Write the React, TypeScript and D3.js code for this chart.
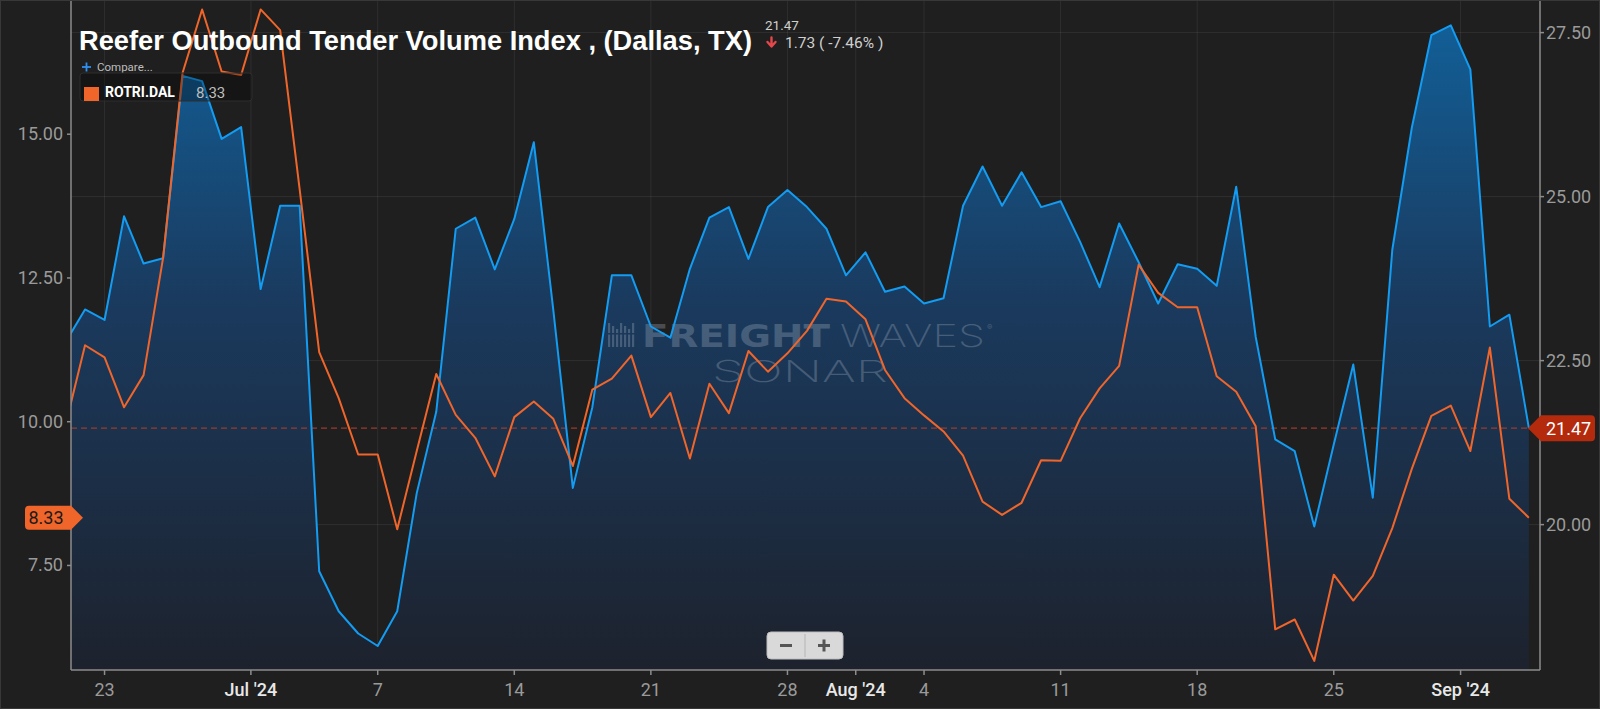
import React from "react";
import * as d3 from "d3";

// ---- data (daily, starting 2024-06-21) ----
const START_DATE = "2024-06-21";

// Reefer Outbound Tender Volume Index, Dallas (right axis, blue area)
const rotviValues = [
    22.78, 23.28, 23.12, 24.70, 23.98, 24.06, 26.84, 26.76, 25.88, 26.06,
    23.59, 24.86, 24.86, 19.29, 18.68, 18.34, 18.15, 18.68, 20.48, 21.72,
    24.51, 24.68, 23.89, 24.66, 25.83, 23.27, 20.56, 21.79, 23.80, 23.80,
    23.02, 22.85, 23.90, 24.68, 24.84, 24.05, 24.84, 25.10, 24.84, 24.51,
    23.80, 24.15, 23.55, 23.63, 23.37, 23.45, 24.86, 25.46, 24.86, 25.37,
    24.84, 24.93, 24.31, 23.62, 24.59, 24.00, 23.37, 23.97, 23.90, 23.64,
    25.15, 22.86, 21.30, 21.12, 19.97, 21.22, 22.44, 20.41, 24.19, 26.05,
    27.46, 27.61, 26.94, 23.02, 23.20, 21.47,
];

// ROTRI.DAL (left axis, orange line)
const rotriValues = [
    9.94, 11.33, 11.12, 10.25, 10.81, 12.85, 16.07, 17.17, 16.09, 16.03,
    17.17, 16.81, 14.04, 11.21, 10.41, 9.43, 9.43, 8.13, 9.49, 10.83,
    10.12, 9.72, 9.05, 10.08, 10.35, 10.05, 9.23, 10.56, 10.75, 11.15,
    10.08, 10.50, 9.36, 10.66, 10.15, 11.23, 10.87, 11.19, 11.58, 12.14,
    12.09, 11.78, 10.90, 10.41, 10.11, 9.83, 9.41, 8.61, 8.38, 8.59,
    9.33, 9.32, 10.06, 10.58, 10.97, 12.73, 12.24, 11.99, 11.99, 10.79,
    10.52, 9.92, 6.39, 6.56, 5.84, 7.34, 6.89, 7.32, 8.15, 9.18,
    10.10, 10.28, 9.49, 11.29, 8.66, 8.33,
];

const leftTicks = [7.5, 10, 12.5, 15];
const rightTicks = [20, 22.5, 25, 27.5];
const dayTicks = [
    {date: "2024-06-23", label: "23"},
    {date: "2024-07-07", label: "7"},
    {date: "2024-07-14", label: "14"},
    {date: "2024-07-21", label: "21"},
    {date: "2024-07-28", label: "28"},
    {date: "2024-08-04", label: "4"},
    {date: "2024-08-11", label: "11"},
    {date: "2024-08-18", label: "18"},
    {date: "2024-08-25", label: "25"},
];
const monthTicks = [
    {date: "2024-07-01", label: "Jul '24"},
    {date: "2024-08-01", label: "Aug '24"},
    {date: "2024-09-01", label: "Sep '24"},
];

const TITLE = "Reefer Outbound Tender Volume Index , (Dallas, TX)";
const SERIES_CODE = "ROTRI.DAL";
const HEADER_LAST = "21.47";
const HEADER_CHANGE = "1.73 ( -7.46% )";

// ---- layout ----
const W = 1600;
const H = 709;
const plot = {left: 71, right: 1540, top: 0, bottom: 670};
const DAY = 86400000;
const MONTH_SHIFT = DAY / 2; // month labels sit half a day early (tz offset)

const BG = "#1f1f1f";
const BLUE = "#139cf2";
const ORANGE = "#f0652a";
const AXIS = "#8d8d8d";
const LABEL = "#9a9a9a";

const start = Date.parse(START_DATE);
const dates = rotviValues.map((_, i) => new Date(start + i * DAY));

const x = d3.scaleUtc()
    .domain([new Date(start + 0.28 * DAY), new Date(start + 75.57 * DAY)])
    .range([plot.left, plot.right]);
const yRight = d3.scaleLinear().domain([17.784, 27.997]).range([plot.bottom, plot.top]);
const yLeft = d3.scaleLinear().domain([5.682, 17.334]).range([plot.bottom, plot.top]);
const fmt = d3.format(".2f");

const area = d3.area<number>()
    .x((_, i) => x(dates[i]))
    .y0(plot.bottom)
    .y1(d => yRight(d));
const blueLine = d3.line<number>()
    .x((_, i) => x(dates[i]))
    .y(d => yRight(d));
const orangeLine = d3.line<number>()
    .x((_, i) => x(dates[i]))
    .y(d => yLeft(d));

const Watermark = () => (
    <g opacity={0.3} fill="#a9b6c4">
        <g>
            {[0, 4, 8, 12, 16, 20, 24].map((dx, i) => (
                <rect key={i} x={608 + dx} y={323 + (i % 3) * 3} width={2.2} height={24 - (i % 3) * 3}/>
            ))}
            <rect x={606} y={333} width={31} height={1.5} fill={"#1d3a5a"}/>
        </g>
        <text x={642} y={347} fontFamily="DejaVu Sans" fontWeight={700} fontSize={32}
              textLength={188} lengthAdjust="spacingAndGlyphs">FREIGHT</text>
        <text x={840} y={347} fontFamily="Inter" fontWeight={200} fontSize={31}
              textLength={145} lengthAdjust="spacingAndGlyphs">WAVES</text>
        <text x={987} y={330} fontFamily="Inter" fontSize={8}>®</text>
        <text x={712} y={382} fontFamily="Inter" fontWeight={200} fontSize={30}
              textLength={176} lengthAdjust="spacingAndGlyphs">SONAR</text>
    </g>
);

const Chart = () => {
    const lastRight = rotviValues[rotviValues.length - 1];
    const lastLeft = rotriValues[rotriValues.length - 1];
    const yLast = yRight(lastRight);
    const yTag = yLeft(lastLeft);
    const lastX = x(dates[dates.length - 1]);

    return (
        <svg width={W} height={H} style={{display: "block"}} fontFamily="Roboto, sans-serif">
            <defs>
                <clipPath id="plotClip">
                    <rect x={plot.left} y={plot.top} width={plot.right - plot.left} height={plot.bottom - plot.top}/>
                </clipPath>
                <linearGradient id="areaGrad" gradientUnits="userSpaceOnUse" x1={0} y1={plot.top} x2={0} y2={plot.bottom}>
                    <stop offset="0%" stopColor="#11629c"/>
                    <stop offset="45%" stopColor="#1a3a5e"/>
                    <stop offset="100%" stopColor="#1d222d"/>
                </linearGradient>
            </defs>

            <rect x={0} y={0} width={W} height={H} fill={BG}/>

            {/* grid */}
            <g stroke="#ffffff" strokeOpacity={0.07} strokeWidth={1}>
                {rightTicks.map(t => (
                    <line key={t} x1={plot.left} x2={plot.right} y1={yRight(t)} y2={yRight(t)}/>
                ))}
                {dayTicks.map(t => (
                    <line key={t.date} x1={x(new Date(t.date))} x2={x(new Date(t.date))} y1={plot.top} y2={plot.bottom}/>
                ))}
                {monthTicks.map(t => {
                    const px = x(new Date(Date.parse(t.date) - MONTH_SHIFT));
                    return <line key={t.date} x1={px} x2={px} y1={plot.top} y2={plot.bottom}/>;
                })}
            </g>

            <g clipPath="url(#plotClip)">
                <path d={area(rotviValues) ?? ""} fill="url(#areaGrad)"/>
                <Watermark/>
                <line x1={plot.left} x2={lastX} y1={yLast} y2={yLast}
                      stroke="#9b3a2e" strokeWidth={1.2} strokeDasharray="6,4"/>
                <path d={blueLine(rotviValues) ?? ""} fill="none" stroke={BLUE} strokeWidth={2}
                      strokeLinejoin="round"/>
                <path d={orangeLine(rotriValues) ?? ""} fill="none" stroke={ORANGE} strokeWidth={2}
                      strokeLinejoin="round"/>
            </g>

            {/* axes */}
            <g stroke={AXIS} strokeWidth={1.5}>
                <line x1={plot.left} x2={plot.left} y1={plot.top} y2={plot.bottom}/>
                <line x1={plot.right} x2={plot.right} y1={plot.top} y2={plot.bottom}/>
                <line x1={plot.left} x2={plot.right} y1={plot.bottom} y2={plot.bottom}/>
                {leftTicks.map(t => (
                    <line key={t} x1={plot.left - 4} x2={plot.left} y1={yLeft(t)} y2={yLeft(t)}/>
                ))}
                {rightTicks.map(t => (
                    <line key={t} x1={plot.right} x2={plot.right + 4} y1={yRight(t)} y2={yRight(t)}/>
                ))}
                {dayTicks.map(t => (
                    <line key={t.date} x1={x(new Date(t.date))} x2={x(new Date(t.date))}
                          y1={plot.bottom} y2={plot.bottom + 5}/>
                ))}
                {monthTicks.map(t => {
                    const px = x(new Date(Date.parse(t.date) - MONTH_SHIFT));
                    return <line key={t.date} x1={px} x2={px} y1={plot.bottom} y2={plot.bottom + 5}/>;
                })}
            </g>

            <g fontSize={18} fill={LABEL}>
                {leftTicks.map(t => (
                    <text key={t} x={plot.left - 8} y={yLeft(t) + 6} textAnchor="end">{fmt(t)}</text>
                ))}
                {rightTicks.map(t => (
                    <text key={t} x={plot.right + 6} y={yRight(t) + 6}>{fmt(t)}</text>
                ))}
                {dayTicks.map(t => (
                    <text key={t.date} x={x(new Date(t.date))} y={696} textAnchor="middle">{t.label}</text>
                ))}
                {monthTicks.map(t => (
                    <text key={t.date} x={x(new Date(Date.parse(t.date) - MONTH_SHIFT))} y={696}
                          textAnchor="middle" fill="#e8e8e8" fontWeight={500}>{t.label}</text>
                ))}
            </g>

            {/* last value tags */}
            <path d={`M${lastX - 1},${yLast} L${plot.right + 1},${yLast - 13} H${W - 9} Q${W - 5},${yLast - 13} ${W - 5},${yLast - 9} V${yLast + 9} Q${W - 5},${yLast + 13} ${W - 9},${yLast + 13} H${plot.right + 1} Z`}
                  fill="#b42a0d"/>
            <text x={plot.right + 6} y={yLast + 7} fontSize={18} fill="#ffffff">{fmt(lastRight)}</text>

            <path d={`M${plot.left + 12},${yTag} L${plot.left},${yTag - 12} H29 Q25,${yTag - 12} 25,${yTag - 8} V${yTag + 8} Q25,${yTag + 12} 29,${yTag + 12} H${plot.left} Z`}
                  fill={ORANGE}/>
            <text x={46} y={yTag + 6.5} fontSize={18} fill="#1a1a1a" textAnchor="middle">{fmt(lastLeft)}</text>

            {/* title + header */}
            <text x={79} y={50} fontFamily="Liberation Sans, Arial, sans-serif" fontWeight={700} fontSize={27}
                  fill="#ffffff" textLength={673} lengthAdjust="spacingAndGlyphs">{TITLE}</text>
            <text x={765} y={30} fontSize={13.5} fill="#cfcfcf">{HEADER_LAST}</text>
            <path d="M771.5,37.5 V43.5 M767.5,42 L771.5,46.5 L775.5,42" fill="none" stroke="#e5474a" strokeWidth={2.4}
                  strokeLinecap="round" strokeLinejoin="round"/>
            <text x={785} y={48} fontSize={15.5} fill="#cfcfcf">{HEADER_CHANGE}</text>

            {/* legend */}
            <g stroke="#2f8ff0" strokeWidth={1.8}>
                <line x1={82} x2={91} y1={67} y2={67}/>
                <line x1={86.5} x2={86.5} y1={62.5} y2={71.5}/>
            </g>
            <text x={97} y={71} fontSize={11.5} fill="#bdbdbd">Compare...</text>
            <rect x={80} y={73} width={172} height={28} rx={3} fill="#000000" fillOpacity={0.3}
                  stroke="#2e2e2e" strokeWidth={1}/>
            <rect x={84} y={87} width={15} height={14} fill={ORANGE}/>
            <text x={105} y={97} fontSize={14} fontWeight={700} fill="#ffffff">{SERIES_CODE}</text>
            <text x={196} y={98} fontSize={15} fill="#bdbdbd">{fmt(lastLeft)}</text>

            {/* zoom buttons */}
            <rect x={767} y={632} width={76} height={27} rx={4} fill="#d9d9d9" stroke="#bdbdbd"/>
            <line x1={805} x2={805} y1={634} y2={657} stroke="#b5b5b5"/>
            <rect x={780} y={644} width={12} height={3} fill="#555555"/>
            <rect x={818} y={644} width={12} height={3} fill="#555555"/>
            <rect x={822.5} y={639.5} width={3} height={12} fill="#555555"/>

            <rect x={0.5} y={0.5} width={W - 1} height={H - 1} fill="none" stroke="#383838"/>
        </svg>
    );
};

export default function App() {
    return (
        <div style={{position: "absolute", left: 0, top: 0, width: W, height: H, background: BG}}>
            <Chart/>
        </div>
    );
}
